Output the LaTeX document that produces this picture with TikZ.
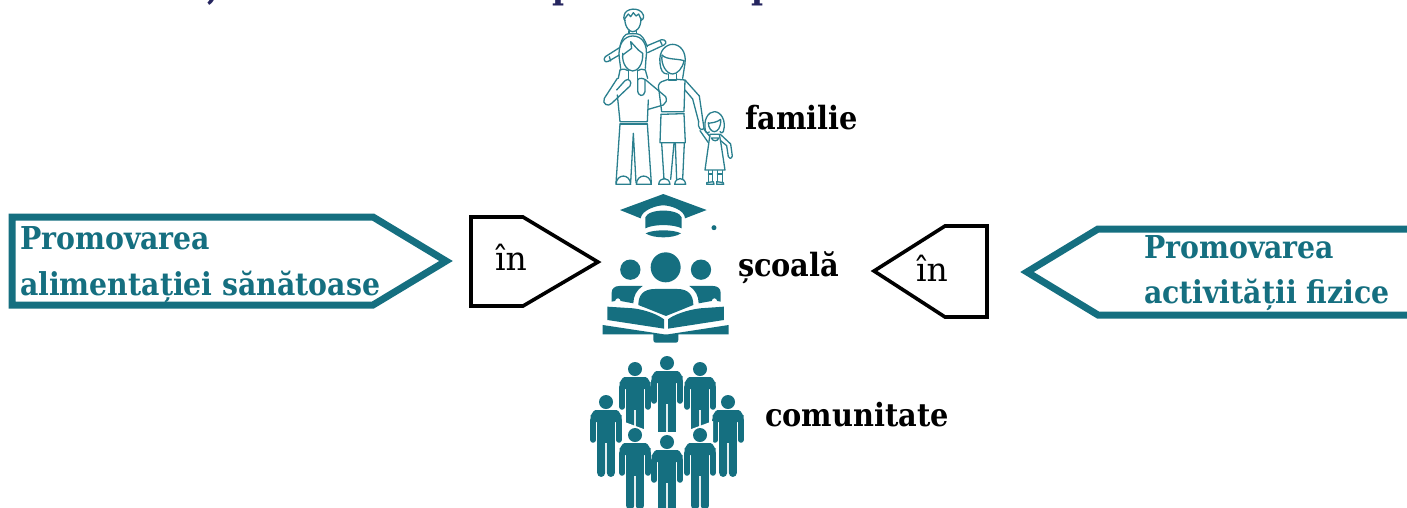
\documentclass[tikz,border=0pt]{standalone}
\usepackage{fontspec}
\setmainfont{DejaVu Serif}[BoldFeatures={FakeStretch=0.9}]
\definecolor{teal1}{HTML}{156F80}
\definecolor{line1}{HTML}{2A7F8E}
\definecolor{navy1}{HTML}{25255F}
\tikzset{
  blackarrow/.style={draw=black,line width=3.6pt,fill=white,miter limit=10},
  tealarrow/.style={draw=teal1,line width=7pt,fill=white,miter limit=10},
  lbl/.style={anchor=base west,inner sep=0pt,outer sep=0pt,font=\bfseries\fontsize{32}{32}\selectfont,text=black},
  tlbl/.style={anchor=base west,inner sep=0pt,outer sep=0pt,font=\bfseries\fontsize{31.5}{31.5}\selectfont,text=teal1},
  inlbl/.style={anchor=base west,inner sep=0pt,outer sep=0pt,font=\fontsize{33}{33}\selectfont,text=black},
  toplbl/.style={anchor=base west,inner sep=0pt,outer sep=0pt,font=\bfseries\fontsize{36}{36}\selectfont,text=navy1},
  fam/.style={draw=line1,line width=1.3pt,line join=round,line cap=round,fill=none},
  pers/.pic={
    \fill[teal1] (0,0) circle (7);
    \fill[teal1] (-15.5,20) -- (-15.5,13) to[out=-90,in=180] (-10.5,8) -- (10.5,8) to[out=0,in=-90] (15.5,13) -- (15.5,20) -- cycle;
    \draw[teal1,line width=5.5pt,line cap=round] (-12.8,18) -- (-12.8,38);
    \draw[teal1,line width=5.5pt,line cap=round] (12.8,18) -- (12.8,38);
    \fill[teal1] (-9.2,15) rectangle (9.2,41);
    \fill[teal1] (-8.8,40) -- (-0.9,40) -- (-0.9,71) arc[start angle=0,end angle=180,radius=3.95] -- cycle;
    \fill[teal1] (8.8,40) -- (0.9,40) -- (0.9,71) arc[start angle=180,end angle=0,radius=3.95] -- cycle;
  }
}
\begin{document}
\begin{tikzpicture}[x=1pt,y=-1pt]
\useasboundingbox (0,0) rectangle (1407,507);
\clip (0,0) rectangle (1407,507);
% cut-off title
\node[toplbl] (t1) at (207,-1) {,};
\node[toplbl] (t2) at (552,-2) {p};
\node[toplbl] (t3) at (751,-2) {p};
% arrows
\draw[tealarrow] (12,217) -- (373,217) -- (446,261) -- (373,305) -- (12,305) -- cycle;
\draw[tealarrow] (1420,229) -- (1098,229) -- (1027,272) -- (1098,315) -- (1420,315);
\draw[blackarrow] (471,217) -- (523,217) -- (598,262) -- (523,306) -- (471,306) -- cycle;
\draw[blackarrow] (987,226) -- (945,226) -- (874,271) -- (945,317) -- (987,317) -- cycle;
% texts
\node[tlbl] (a1) at (20,249) {Promovarea};
\node[tlbl] (a2) at (20,295) {alimentației sănătoase};
\node[tlbl] (b1) at (1144,258) {Promovarea};
\node[tlbl] (b2) at (1144,303) {activității fizice};
\node[inlbl] (i1) at (495,270) {în};
\node[inlbl] (i2) at (916,281) {în};
\node[lbl] (f) at (745,129) {familie};
\node[lbl] (s) at (738,276) {școală};
\node[lbl] (c) at (765,426) {comunitate};
% family
\begin{scope}[shift={(560,0)},x=0.3333pt,y=-0.3333pt,fam]
  % boy
  \draw (193,45) .. controls (195,25) and (240,18) .. (250,45) .. controls (252,55) and (248,60) .. (243,62);
  \draw (193,45) .. controls (190,55) and (192,60) .. (195,62);
  \draw (195,55) -- (205,42) -- (212,50) -- (220,38) -- (228,48) -- (236,42) -- (243,58);
  \draw (194,55) .. controls (195,85) and (210,95) .. (218,95) .. controls (228,95) and (243,85) .. (243,55);
  \draw (207,92) -- (207,101) (230,92) -- (230,101);
  \draw (180,140) .. controls (185,115) and (195,100) .. (207,101) -- (230,101) .. controls (245,102) and (255,120) .. (262,140);
  \draw (180,142) -- (136,170) .. controls (128,178) and (135,190) .. (145,184) -- (178,165);
  \draw (148,170) -- (152,183);
  \draw (262,137) -- (305,119) .. controls (318,118) and (322,130) .. (312,135) -- (263,158);
  \draw (300,122) -- (306,134);
  % father
  \draw (178,175) .. controls (172,130) and (195,108) .. (218,108) .. controls (245,108) and (265,130) .. (258,175);
  \draw (188,165) -- (215,145) -- (212,125) -- (235,150) -- (248,160);
  \draw (188,160) .. controls (185,195) and (205,213) .. (218,213) .. controls (232,213) and (250,195) .. (248,160);
  \draw (178,175) -- (182,205) (258,175) -- (256,205);
  \draw (180,210) .. controls (190,205) and (198,208) .. (205,212) (256,210) .. controls (248,205) and (240,208) .. (233,212);
  \draw (205,212) -- (205,238) (233,212) -- (233,238);
  \draw (180,210) -- (175,235) (256,210) -- (263,235);
  \draw (172,235) -- (133,295) .. controls (125,312) and (145,322) .. (155,310) -- (210,258) .. controls (218,245) and (205,232) .. (195,242) -- (170,270);
  \draw (233,240) -- (233,270) .. controls (233,290) and (252,292) .. (255,275) -- (255,240) .. controls (255,235) and (235,232) .. (233,240);
  \draw (255,238) -- (317,290) .. controls (322,300) and (318,310) .. (310,315) -- (265,328);
  \draw (172,285) -- (180,365) -- (262,365) -- (265,300);
  \draw (180,372) -- (262,372);
  \draw (180,372) -- (168,550);
  \draw (220,400) -- (212,548) (220,400) -- (228,548);
  \draw (262,372) -- (274,550);
  \draw (168,553) .. controls (170,520) and (210,520) .. (212,553) -- cycle;
  \draw (229,553) .. controls (231,520) and (271,520) .. (274,553) -- cycle;
  % mother
  \draw (300,190) .. controls (295,150) and (320,133) .. (338,133) .. controls (360,133) and (380,155) .. (375,190) -- (368,235);
  \draw (306,165) .. controls (320,180) and (350,175) .. (372,182);
  \draw (306,165) .. controls (302,195) and (320,222) .. (338,222) .. controls (352,222) and (368,205) .. (372,182);
  \draw (300,190) .. controls (302,210) and (308,222) .. (322,222);
  \draw (325,222) -- (325,240) -- (350,240) -- (350,222);
  \draw (325,238) -- (305,245) .. controls (295,250) and (293,260) .. (297,272) -- (305,335) -- (372,335) -- (375,240) -- (350,238);
  \draw (303,343) -- (372,341);
  \draw (303,343) -- (300,428) -- (376,428) -- (372,341);
  \draw (305,430) -- (312,538) (342,430) -- (332,538) (346,430) -- (350,538) (373,430) -- (368,538);
  \draw (296,553) .. controls (298,530) and (328,530) .. (330,553) -- cycle;
  \draw (344,553) .. controls (346,530) and (375,530) .. (377,553) -- cycle;
  \draw (375,240) -- (418,288) -- (432,385);
  \draw (375,270) -- (398,297) -- (416,365);
  \draw (416,365) .. controls (412,385) and (425,395) .. (432,385);
  % girl
  \draw (437,395) .. controls (428,360) and (445,335) .. (463,335) .. controls (482,335) and (500,360) .. (490,395) .. controls (488,400) and (482,400) .. (480,395);
  \draw (445,370) .. controls (455,368) and (470,368) .. (482,358);
  \draw (445,368) .. controls (445,385) and (455,395) .. (463,395) .. controls (473,395) and (483,382) .. (482,360);
  \draw (437,395) .. controls (440,400) and (445,400) .. (448,396);
  \draw (420,392) -- (445,428) (432,388) -- (450,410);
  \draw (450,403) -- (478,403) -- (482,425) -- (495,510) -- (435,510) -- (447,425) -- cycle;
  \draw (454,414) -- (476,414) .. controls (474,425) and (458,425) .. (454,414);
  \draw (480,402) -- (512,432) -- (517,468) .. controls (515,478) and (506,476) .. (505,470) -- (500,437) -- (482,422);
  \draw (445,512) -- (445,545) (457,512) -- (457,545) (472,512) -- (472,545) (487,512) -- (487,545);
  \draw (445,522) -- (457,522) (472,522) -- (487,522);
  \draw (440,553) -- (440,548) -- (460,545) -- (462,553) -- cycle;
  \draw (470,553) -- (470,545) -- (490,548) -- (491,553) -- cycle;
\end{scope}
% school
\begin{scope}[shift={(590,190)},x=0.3333pt,y=-0.3333pt]
  \fill[teal1] (90,60) -- (220,12) -- (350,60) -- (285,85) .. controls (285,60) and (240,46) .. (220,46) .. controls (200,46) and (155,60) .. (152,85) -- cycle;
  \fill[teal1] (166,82) .. controls (175,55) and (265,55) .. (275,82) -- (275,115) .. controls (250,102) and (190,102) .. (166,115) -- cycle;
  \fill[teal1] (167,130) .. controls (190,118) and (250,118) .. (273,130) .. controls (250,146) and (190,146) .. (167,130) -- cycle;
  \fill[teal1] (372,113) circle (7.5);
  \fill[teal1] (227,232) circle (45);
  \fill[teal1] (121,239) circle (30.5);
  \fill[teal1] (333,239) circle (30.5);
  \fill[teal1] (145,345) .. controls (145,315) and (160,297) .. (195,297) -- (262,297) .. controls (295,297) and (310,315) .. (310,345) -- (228,378) -- cycle;
  \fill[teal1] (65,335) -- (65,308) .. controls (65,295) and (75,288) .. (88,288) -- (158,288) .. controls (140,300) and (130,318) .. (130,340) -- (92,333) .. controls (90,322) and (78,322) .. (75,333) -- cycle;
  \fill[teal1] (392,335) -- (392,308) .. controls (392,295) and (382,288) .. (369,288) -- (298,288) .. controls (316,300) and (326,318) .. (326,340) -- (365,333) .. controls (367,322) and (379,322) .. (382,333) -- cycle;
  \fill[teal1] (52,350) -- (130,355) .. controls (170,360) and (205,375) .. (222,388) -- (222,416) -- (52,390) -- cycle;
  \fill[teal1] (402,350) -- (330,355) .. controls (290,360) and (250,375) .. (234,388) -- (234,416) -- (402,390) -- cycle;
  \fill[teal1] (38,405) -- (222,433) -- (234,433) -- (416,405) -- (416,433) -- (265,433) -- (265,450) .. controls (265,455) and (262,458) .. (258,458) -- (197,458) .. controls (193,458) and (190,455) .. (190,450) -- (190,433) -- (38,433) -- cycle;
\end{scope}
% community
\pic at (606,402) {pers};
\pic at (728,402) {pers};
\pic at (635,369) {pers};
\pic at (700,369) {pers};
\pic at (667,363) {pers};
\fill[white] (622,421) -- (649,431) -- (649,450) -- (622,450) -- cycle;
\fill[white] (713,421) -- (686,431) -- (686,450) -- (713,450) -- cycle;
\fill[white] (649,432) rectangle (686,450);
\pic at (635,435) {pers};
\pic at (700,435) {pers};
\pic at (667,442) {pers};
\end{tikzpicture}
\end{document}
